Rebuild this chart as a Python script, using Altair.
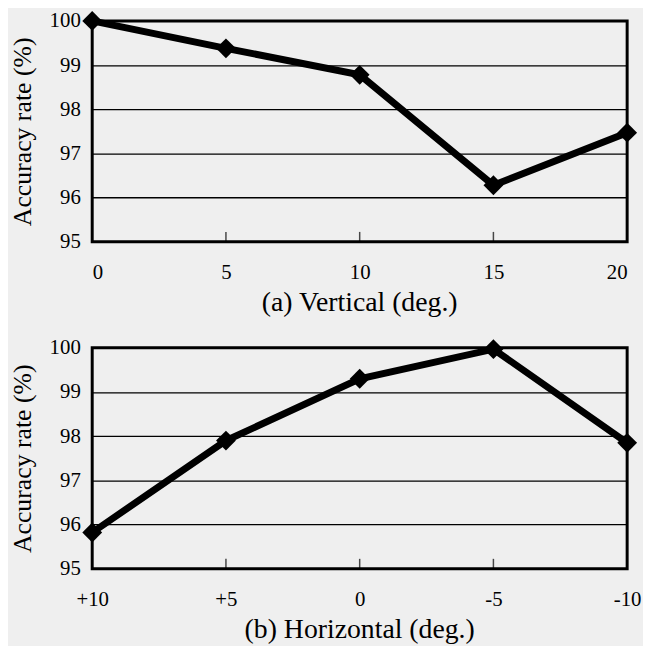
import altair as alt
import pandas as pd

# Panel (a): vertical angle
vert_angles = [0, 5, 10, 15, 20]
vert_acc = [100.0, 99.38, 98.78, 96.28, 97.47]

# Panel (b): horizontal angle
horiz_labels = ["+10", "+5", "0", "-5", "-10"]
horiz_acc = [95.82, 97.9, 99.3, 99.97, 97.85]

y_ticks = [95, 96, 97, 98, 99, 100]

FONT = "Liberation Serif"
W, H = 540, 223

df_a = pd.DataFrame({"x": vert_angles, "y": vert_acc})
df_b = pd.DataFrame({"x": horiz_labels, "y": horiz_acc})
tick_a = pd.DataFrame({"x": vert_angles[1:-1], "y": [95] * (len(vert_angles) - 2)})
tick_b = pd.DataFrame({"x": horiz_labels[1:-1], "y": [95] * (len(horiz_labels) - 2)})

yscale = alt.Scale(domain=[95, 100], nice=False, zero=False)
Y = alt.Y("y:Q", scale=yscale, title="Accuracy rate (%)", axis=alt.Axis(values=y_ticks))


def panel(df, tick_df, xenc, title):
    ticks = alt.Chart(tick_df).mark_tick(orient="vertical", color="black", thickness=1.5,
                                         size=10, yOffset=-5).encode(x=xenc, y=Y)
    line = alt.Chart(df).mark_line(color="black", strokeWidth=7).encode(x=xenc, y=Y)
    pts = alt.Chart(df).mark_point(shape="diamond", filled=True, color="black",
                                   size=400, opacity=1).encode(x=xenc, y=Y)
    return alt.layer(ticks, line, pts).properties(
        width=W, height=H,
        title=alt.TitleParams(title, orient="bottom", fontSize=28, font=FONT,
                              fontWeight="normal", color="black", offset=7))


xa = alt.X("x:Q", scale=alt.Scale(domain=[0, 20], nice=False), title=None,
           axis=alt.Axis(values=vert_angles))
xb = alt.X("x:N", sort=horiz_labels, scale=alt.Scale(type="point", padding=0), title=None,
           axis=alt.Axis(labelAngle=0))

top = panel(df_a, tick_a, xa, "(a) Vertical (deg.)")
bottom = panel(df_b, tick_b, xb, "(b) Horizontal (deg.)")

chart = alt.vconcat(top, bottom, spacing=14, background="#efefef",
                    padding={"top": -6, "left": 0, "right": 0, "bottom": 0}).configure(
    font=FONT
).configure_view(
    stroke="black", strokeWidth=3, fill="#efefef"
).configure_axis(
    labelFont=FONT, titleFont=FONT, labelFontSize=21, titleFontSize=26,
    titleFontWeight="normal", labelColor="black", titleColor="black",
    ticks=False, domain=False
).configure_axisY(
    grid=True, gridColor="black", gridWidth=1.3, gridOpacity=1,
    labelPadding=12, titlePadding=14
).configure_axisX(
    grid=False, labelPadding=20
)

chart.save("out.html", embed_options={"renderer": "svg", "actions": False})
